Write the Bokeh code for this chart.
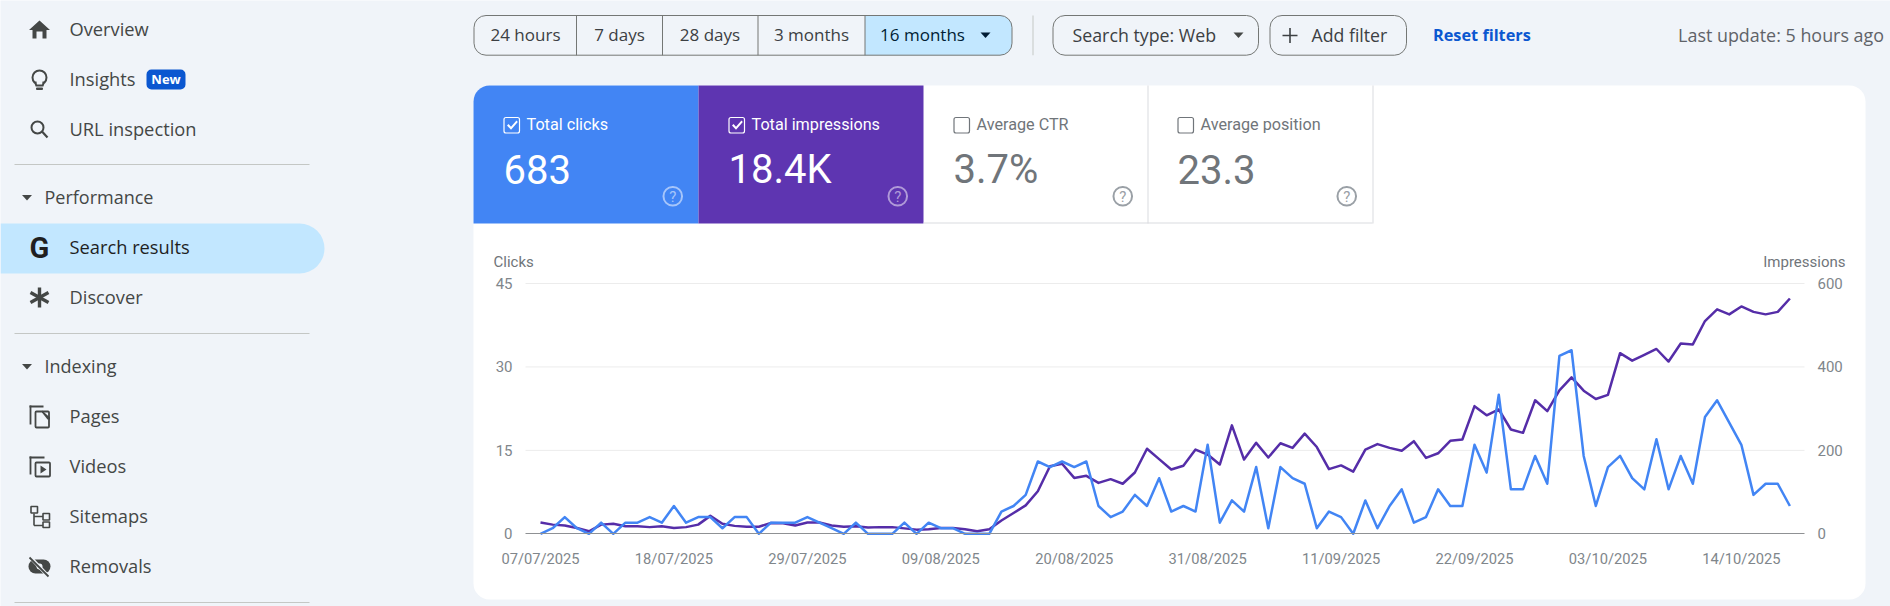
import math

import pandas as pd
from bokeh.embed import file_html
from bokeh.models import (BoxAnnotation, FixedTicker, Label, LinearAxis, PolyAnnotation, Range1d,
                          DatetimeTickFormatter)
from bokeh.plotting import figure
from bokeh.resources import INLINE

# datos de la grafica
fecha_inicio = "2025-07-07"
clicks = [0, 1, 3, 1, 0, 2, 0, 2, 2, 3, 2, 5, 2, 3, 3, 1, 3, 3, 0, 2, 2, 2, 3, 2, 1, 0,
          2, 0, 0, 0, 2, 0, 2, 1, 1, 0, 0, 0, 4, 5, 7, 13, 12, 13, 12, 13, 5, 3, 4, 7, 5, 10,
          4, 5, 4, 16, 2, 6, 4, 12, 1, 12, 10, 9, 1, 4, 3, 0, 6, 1, 5, 8, 2, 3, 8, 5, 5, 16,
          11, 25, 8, 8, 14, 9, 32, 33, 14, 5, 12, 14, 10, 8, 17, 8, 14, 9, 21, 24, 20, 16, 7, 9, 9, 5]
impresiones = [27, 22, 20, 14, 6, 22, 24, 18, 18, 16, 18, 14, 16, 22, 43, 24, 19, 17, 17, 26, 25, 20, 27, 27, 20, 17,
               18, 15, 16, 16, 13, 10, 11, 14, 14, 11, 6, 11, 32, 50, 68, 102, 162, 168, 134, 139, 122, 131, 120, 147, 204, 179,
               154, 163, 202, 190, 166, 260, 178, 218, 183, 217, 206, 240, 208, 155, 164, 149, 202, 215, 206, 199, 222, 182, 193, 223, 226, 306,
               284, 298, 250, 242, 320, 294, 344, 375, 343, 323, 333, 433, 415, 429, 443, 413, 456, 454, 510, 538, 526, 545, 532, 526, 532, 564]
etiquetas_fecha = ["07/07/2025", "18/07/2025", "29/07/2025", "09/08/2025", "20/08/2025",
                   "31/08/2025", "11/09/2025", "22/09/2025", "03/10/2025", "14/10/2025"]
ticks_clicks = [0, 15, 30, 45]
ticks_impresiones = [0, 200, 400, 600]

# textos de la interfaz
menu_items = ["Overview", "Insights", "URL inspection", "Search results", "Discover",
              "Pages", "Videos", "Sitemaps", "Removals"]
menu_secciones = ["Performance", "Indexing"]
rangos = ["24 hours", "7 days", "28 days", "3 months", "16 months"]
tarjetas = ["Total clicks", "Total impressions", "Average CTR", "Average position"]
tarjetas_valor = ["683", "18.4K", "3.7%", "23.3"]

FONDO = "#f0f4f9"
GRIS_ICONO = "#444746"
FUENTE_UI = "Open Sans"
FUENTE_CHART = "Roboto"
ANCHO, ALTO = 1890, 606

# escala de la grafica: el frame ocupa toda la pagina y los ejes van fijos por dentro
X0, PX_DIA = 540, 12.13
Y0, PX_CLICK = 533.3, 250.3 / 45
PX_IMPR = PX_CLICK * 45 / 600
X_IZQ, X_DER = 525, 1804

fechas = pd.date_range(fecha_inicio, periods=len(clicks), freq="D")
ticks_x = [pd.to_datetime(e, dayfirst=True).timestamp() * 1000 for e in etiquetas_fecha]


def fecha_en(px):
    return fechas[0] + pd.Timedelta(days=(px - X0) / PX_DIA)


p = figure(width=ANCHO, height=ALTO, x_axis_type="datetime", output_backend="svg", toolbar_location=None,
           x_range=Range1d(fecha_en(0), fecha_en(ANCHO)),
           y_range=Range1d((Y0 - ALTO) / PX_CLICK, Y0 / PX_CLICK),
           min_border=0)
p.outline_line_color = None
p.border_fill_color = FONDO
p.background_fill_color = FONDO
p.grid.visible = False
p.extra_y_ranges = {"impresiones": Range1d((Y0 - ALTO) / PX_IMPR, Y0 / PX_IMPR)}


def caja(x0, y0, x1, y1, fill=None, line=None, radio=0, ancho=1, nivel="annotation"):
    p.add_layout(BoxAnnotation(left=x0, right=x1, top=y0, bottom=y1,
                               left_units="canvas", right_units="canvas", top_units="canvas", bottom_units="canvas",
                               fill_color=fill, fill_alpha=1 if fill else 0, line_color=line, line_width=ancho,
                               line_alpha=1, border_radius=radio, level=nivel, editable=False))


def poly(xs, ys, fill=GRIS_ICONO):
    p.add_layout(PolyAnnotation(xs=xs, ys=ys, xs_units="canvas", ys_units="canvas", fill_color=fill, fill_alpha=1,
                                line_color=None, editable=False))


def barra(x0, y0, x1, y1, grosor=2, fill=GRIS_ICONO):
    d = math.hypot(x1 - x0, y1 - y0)
    nx = -(y1 - y0) / d * grosor / 2
    ny = (x1 - x0) / d * grosor / 2
    poly([x0 + nx, x1 + nx, x1 - nx, x0 - nx], [y0 + ny, y1 + ny, y1 - ny, y0 - ny], fill)


def texto(x, y, s, size, color, fuente=FUENTE_UI, align="left", estilo="normal"):
    p.add_layout(Label(x=x, y=y, x_units="canvas", y_units="canvas", text=s,
                       text_font=fuente, text_font_size="%.1fpx" % size, text_color=color,
                       text_align=align, text_baseline="middle", text_font_style=estilo))


def triangulo(cx, cy, color=GRIS_ICONO):
    poly([cx - 5, cx + 5, cx], [cy - 2.5, cy - 2.5, cy + 3], color)


# ---- tarjeta blanca y lineas ----
caja(473, 85, 1865, 599, fill="white", radio=16, nivel="image")

# rejilla sin la linea del cero, que la pone el eje x
p.segment(x0=[fecha_en(X_IZQ)] * 3, x1=[fecha_en(X_DER)] * 3, y0=ticks_clicks[1:], y1=ticks_clicks[1:],
          line_color="#ececec", line_width=1, level="underlay")

eje_izq = p.yaxis[0]
eje_izq.ticker = FixedTicker(ticks=ticks_clicks)
eje_izq.fixed_location = fecha_en(X_IZQ).timestamp() * 1000
eje_der = LinearAxis(y_range_name="impresiones", ticker=FixedTicker(ticks=ticks_impresiones),
                     fixed_location=fecha_en(X_DER).timestamp() * 1000)
p.add_layout(eje_der, "right")
eje_izq.bounds = (0, 45)
eje_der.bounds = (0, 600)
for eje in (eje_izq, eje_der):
    eje.axis_line_color = None
    eje.major_tick_line_color = None
    eje.minor_tick_line_color = None
    eje.major_label_text_font = FUENTE_CHART
    eje.major_label_text_font_size = "15px"
    eje.major_label_text_color = "#80868b"
    eje.major_label_standoff = 7
eje_x = p.xaxis[0]
eje_x.ticker = FixedTicker(ticks=ticks_x)
eje_x.formatter = DatetimeTickFormatter(days="%d/%m/%Y", months="%d/%m/%Y", years="%d/%m/%Y", hours="%d/%m/%Y")
eje_x.fixed_location = 0
eje_x.bounds = (fecha_en(X_IZQ).timestamp() * 1000, fecha_en(X_DER).timestamp() * 1000)
eje_x.axis_line_color = "#8f9194"
eje_x.axis_line_width = 1.2
eje_x.major_tick_line_color = None
eje_x.minor_tick_line_color = None
eje_x.major_label_text_font = FUENTE_CHART
eje_x.major_label_text_font_size = "14.7px"
eje_x.major_label_text_color = "#80868b"
eje_x.major_label_standoff = 10

p.line(fechas, impresiones, y_range_name="impresiones", line_color="#552da8", line_width=2.5, line_join="round")
p.line(fechas, clicks, line_color="#4285f4", line_width=2.5, line_join="round")

texto(493, 261, "Clicks", 15, "#70757a", FUENTE_CHART)
texto(1845, 261, "Impressions", 15, "#70757a", FUENTE_CHART, align="right")

# ---- tarjetas de metricas ----
bordes_tarjeta = [473, 698, 923, 1147, 1372]
color_tarjeta = ["#4285f4", "#5e35b1", None, None]
caja(473, 85, 698, 223, fill="#4285f4", radio={"top_left": 16, "top_right": 0, "bottom_right": 0, "bottom_left": 0})
caja(698, 85, 923, 223, fill="#5e35b1")
caja(923, 222, 1372, 223, fill="#dadce0")
caja(1147, 85, 1148, 223, fill="#dadce0")
caja(1372, 85, 1373, 223, fill="#dadce0")
for i, nombre in enumerate(tarjetas):
    x0 = bordes_tarjeta[i]
    activa = color_tarjeta[i] is not None
    c_txt = "white" if activa else "#70757a"
    caja(x0 + 30.5, 117, x0 + 46, 132.5, line="white" if activa else "#70757a", radio=2, ancho=1.2)
    if activa:
        poly([x0 + 33.5, x0 + 35, x0 + 37.5, x0 + 43, x0 + 44.3, x0 + 37.5],
             [125, 123.6, 126.2, 120, 121.4, 129.2], "white")
    texto(x0 + 53, 123.5, nombre, 16.2, c_txt, FUENTE_CHART)
    texto(x0 + 30, 169, tarjetas_valor[i], 40, c_txt, FUENTE_CHART)
    c_ayuda = {0: "#a6c5fa", 1: "#b09ad8"}.get(i, "#9aa0a6")
    caja(x0 + 190, 186.5, x0 + 208.5, 205, line=c_ayuda, radio=9, ancho=2)
    texto(x0 + 199.2, 196, "?", 15, c_ayuda, FUENTE_CHART, align="center")

# ---- barra superior ----
cortes = [473.5, 576, 662, 757.5, 864.5, 1011.5]
caja(864.5, 15, 1011.5, 54.7, fill="#c2e7ff", radio={"top_left": 0, "top_right": 12, "bottom_right": 12, "bottom_left": 0})
caja(473.5, 15, 1011.5, 54.7, line="#747775", radio=12)
for c in cortes[1:-1]:
    caja(c - 0.5, 15, c + 0.5, 54.7, fill="#747775")
centros = [525, 619, 709.5, 811, 922]
for r, cx in zip(rangos, centros):
    texto(cx, 34, r, 17, "#001d35" if r == "16 months" else "#3c4043", align="center")
triangulo(985, 34.5, "#001d35")
caja(1032, 15, 1033, 54.7, fill="#c4c7c5")
caja(1052.5, 15, 1258, 54.7, line="#747775", radio=12)
texto(1072, 34, "Search type: Web", 17.8, "#3c4043")
triangulo(1238, 34.5)
caja(1269.5, 15, 1406, 54.7, line="#747775", radio=12)
barra(1282, 35, 1297, 35, 1.6, "#3c4043")
barra(1289.5, 27.5, 1289.5, 42.5, 1.6, "#3c4043")
texto(1311, 34, "Add filter", 17.7, "#3c4043")
texto(1432.5, 34, "Reset filters", 16.3, "#0b57d0", estilo="bold")
texto(1883.5, 34.5, "Last update: 5 hours ago", 17.9, "#5f6368", align="right")

# ---- menu lateral ----
caja(0, 223, 324, 273, fill="#c2e7ff", radio={"top_left": 0, "top_right": 25, "bottom_right": 25, "bottom_left": 0})
ys_menu = [28, 78, 128, 246, 296, 415, 465, 515, 565]
for nombre, y in zip(menu_items, ys_menu):
    texto(69, y, nombre, 18.3, "#1f1f1f" if nombre == "Search results" else GRIS_ICONO)
for nombre, y in zip(menu_secciones, [196, 365]):
    texto(44, y, nombre, 18, GRIS_ICONO)
    triangulo(26.5, y + 1)
for y in (164, 333, 602):
    caja(14, y - 0.5, 309, y + 0.5, fill="#c4c7c5")

# icono home
poly([39, 49.5, 46, 46, 42, 42, 36, 36, 32, 32, 28.5], [20, 29.5, 29.5, 38, 38, 31, 31, 38, 38, 29.5, 29.5])
# bombilla
caja(32, 70, 46, 84, line=GRIS_ICONO, radio=7, ancho=2)
poly([34.5, 43.5, 42.5, 35.5], [81, 81, 85.5, 85.5], FONDO)
barra(35, 81, 35.5, 85, 2)
barra(43, 81, 42.5, 85, 2)
barra(35, 85, 43, 85, 2)
caja(35.5, 87, 42.5, 89.5, fill=GRIS_ICONO, radio=1)
# lupa
caja(31, 121, 43, 133, line=GRIS_ICONO, radio=6, ancho=2)
barra(41.5, 131, 47, 137, 2.2)
# nuevo
caja(146, 69, 185, 89, fill="#0b57d0", radio=5)
texto(165.5, 78.5, "New", 13, "white", estilo="bold", align="center")
# G
texto(39, 247.5, "G", 29, "#1f1f1f", FUENTE_CHART, align="center", estilo="bold")
# discover
barra(39, 287, 39, 307, 3.4)
barra(30, 292, 48, 302, 3.4)
barra(30, 302, 48, 292, 3.4)
# pages
barra(30, 405, 30, 424, 1.8)
barra(29, 406, 43, 406, 1.8)
caja(35, 411, 48.5, 427, line=GRIS_ICONO, radio=1, ancho=1.8)
poly([41.5, 49.5, 49.5, 47, 41.5], [410, 417, 419, 419, 412])
# videos
barra(30, 456, 30, 474, 1.8)
barra(29, 457, 44, 457, 1.8)
caja(35, 462, 49.5, 476, line=GRIS_ICONO, radio=1, ancho=1.8)
poly([40, 46, 40], [465, 469, 473])
# sitemaps
caja(30.5, 506, 37, 512.5, line=GRIS_ICONO, ancho=1.6)
caja(42.5, 513, 49, 519.5, line=GRIS_ICONO, ancho=1.6)
caja(42.5, 521.5, 49, 527, line=GRIS_ICONO, ancho=1.6)
barra(33.5, 513, 33.5, 525, 1.6)
barra(33.5, 516, 42.5, 516, 1.6)
barra(33.5, 525, 42.5, 525, 1.6)
# removals
caja(28, 559, 50, 573, fill=GRIS_ICONO, radio=7)
caja(36, 563, 42, 569, fill=FONDO, radio=3)
barra(29, 556, 48, 576, 3.6, FONDO)
barra(29, 557, 48, 576, 1.8)

out = file_html(p, INLINE)
open("out.html", "w").write(out)
